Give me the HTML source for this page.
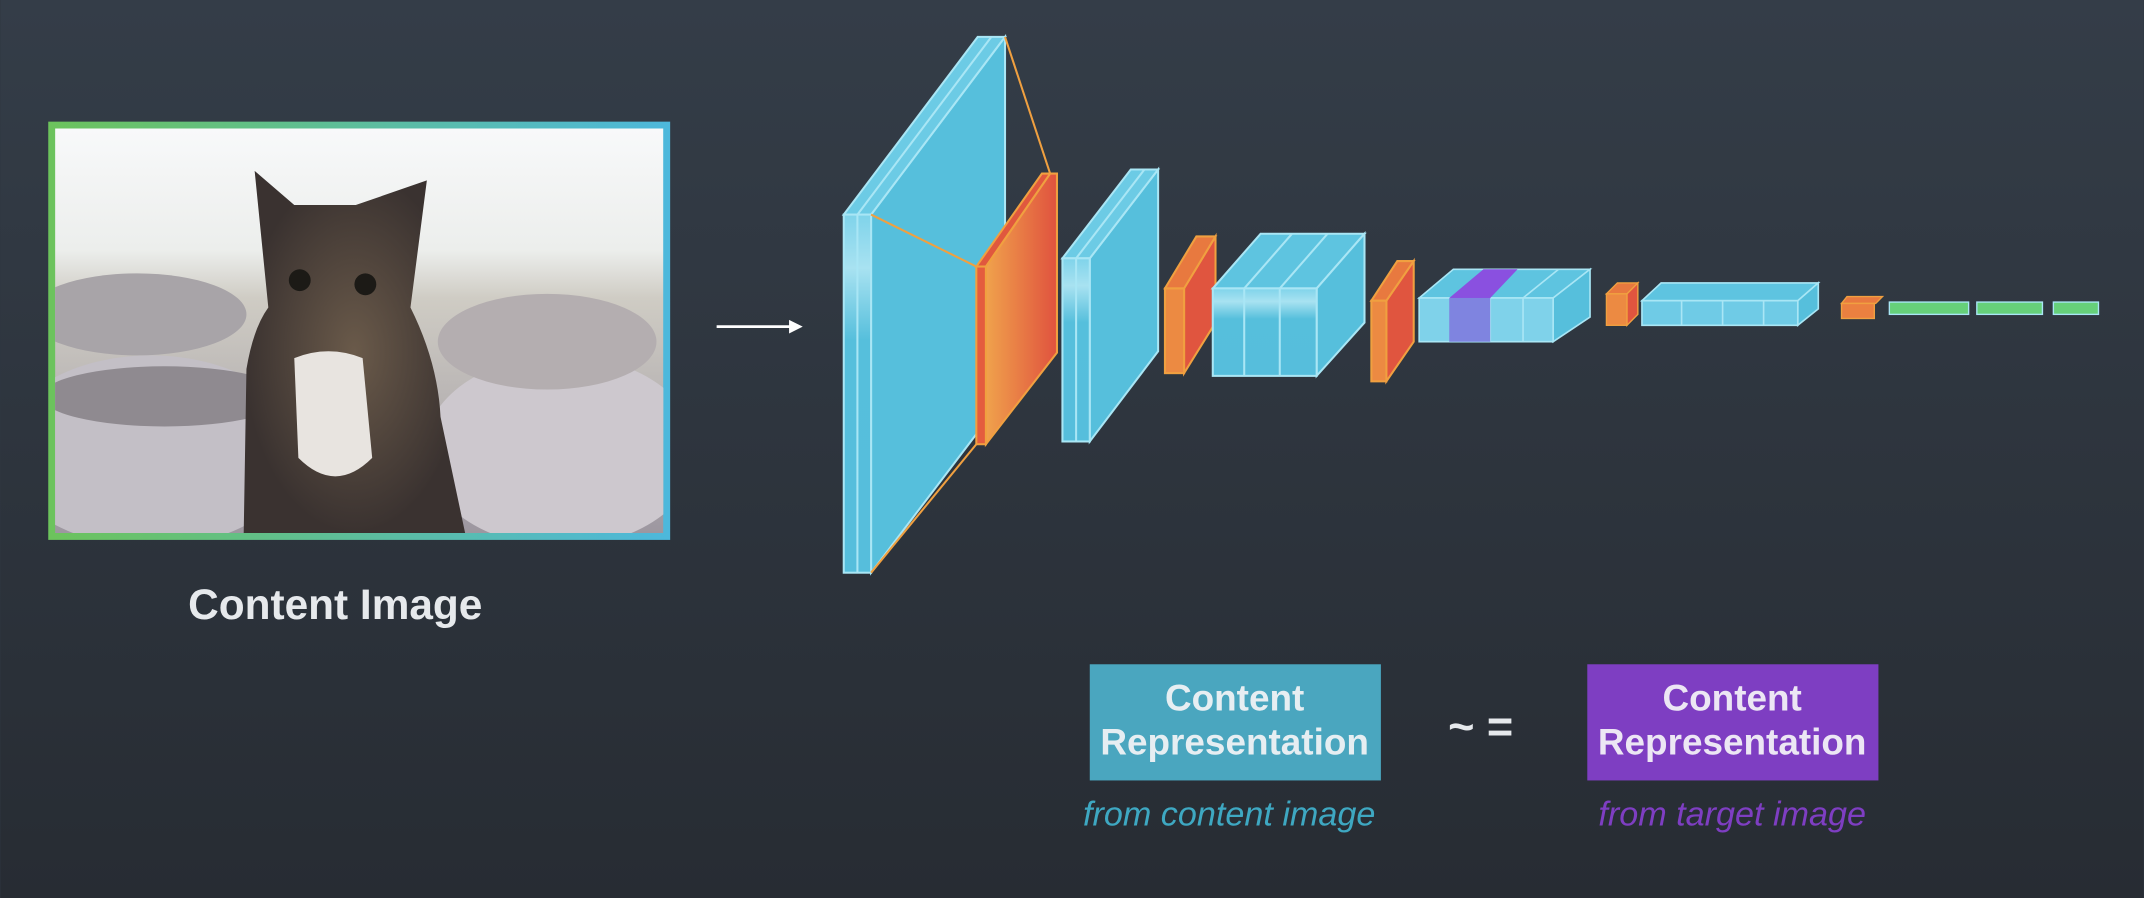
<!DOCTYPE html>
<html><head><meta charset="utf-8"><style>
html,body{margin:0;padding:0;background:#2e3640;}
svg{display:block}
</style></head><body>
<svg width="2144" height="898" viewBox="0 0 1568 657" xmlns="http://www.w3.org/2000/svg" font-family="Liberation Sans, sans-serif">
<defs>
<linearGradient id="bg" x1="0" y1="0" x2="0" y2="1"><stop offset="0" stop-color="#343d48"/><stop offset="1" stop-color="#272c33"/></linearGradient>
<linearGradient id="bd" x1="0" y1="0" x2="1" y2="0"><stop offset="0" stop-color="#6cc35c"/><stop offset="1" stop-color="#4db8dc"/></linearGradient>
<linearGradient id="sky" x1="0" y1="0" x2="0" y2="1"><stop offset="0" stop-color="#f8f9fa"/><stop offset="0.3" stop-color="#eceeec"/><stop offset="0.42" stop-color="#cfccc4"/><stop offset="1" stop-color="#9d97a0"/></linearGradient>
<linearGradient id="org" x1="0" y1="0" x2="1" y2="0"><stop offset="0" stop-color="#f0a24c"/><stop offset="1" stop-color="#e0523e"/></linearGradient>
<linearGradient id="slab" x1="0" y1="0" x2="0" y2="1"><stop offset="0" stop-color="#7fd3ea"/><stop offset="0.15" stop-color="#a8e2f1"/><stop offset="0.35" stop-color="#56bfdc"/><stop offset="1" stop-color="#56bedc"/></linearGradient>
<radialGradient id="cat" cx="0.5" cy="0.5" r="0.5"><stop offset="0" stop-color="#6a5a4a"/><stop offset="1" stop-color="#3a3230"/></radialGradient>
<clipPath id="pc"><rect x="40" y="94" width="445" height="296"/></clipPath>
</defs>
<rect width="1568" height="657" fill="url(#bg)"/>
<rect x="35" y="89" width="455" height="306" fill="url(#bd)"/>
<g clip-path="url(#pc)">
<rect x="40" y="94" width="445" height="296" fill="url(#sky)"/>
<ellipse cx="100" cy="230" rx="80" ry="30" fill="#a8a4a8"/>
<ellipse cx="110" cy="330" rx="110" ry="70" fill="#c3bfc6"/>
<ellipse cx="410" cy="330" rx="100" ry="70" fill="#cdc8ce"/>
<ellipse cx="400" cy="250" rx="80" ry="35" fill="#b4aeb0"/>
<ellipse cx="120" cy="290" rx="90" ry="22" fill="#8f8a90"/>
<path d="M178,390 L180,270 Q185,240 196,225 L186,125 L215,150 L260,150 L312,132 L300,225 Q320,265 322,305 L340,390 Z" fill="url(#cat)"/>
<path d="M215,262 Q240,252 265,262 L272,335 Q245,362 218,335 Z" fill="#e8e4e0"/>
<circle cx="219" cy="205" r="8" fill="#1c1a16"/><circle cx="267" cy="208" r="8" fill="#1c1a16"/>
</g>
<text x="245" y="453" font-size="31" font-weight="bold" fill="#e6e9ec" text-anchor="middle">Content Image</text>
<line x1="524" y1="239" x2="580" y2="239" stroke="#fff" stroke-width="2"/>
<polygon points="587,239 577,234 577,244" fill="#fff"/>
<g stroke="#a9e6f5" stroke-width="1.5">
<polygon points="637,157 735,27 735,290 637,419" fill="#56bfdc"/>
<polygon points="617,157 715,27 735,27 637,157" fill="#6ccbe5"/>
<rect x="617" y="157" width="20" height="262" fill="url(#slab)"/>
<line x1="627" y1="157" x2="627" y2="419"/><line x1="627" y1="157" x2="725" y2="27"/>
</g>
<g stroke="#f0a040" stroke-width="1.5">
<line x1="735" y1="27" x2="768" y2="127"/><line x1="637" y1="157" x2="714" y2="195"/><line x1="637" y1="419" x2="714" y2="325"/>
<polygon points="721,195 768,127 773,127 773,258 721,325" fill="url(#org)"/>
<polygon points="714,195 762,127 768,127 721,195" fill="#e0583e"/>
<rect x="714" y="195" width="7" height="130" fill="#e45c3e"/>
</g>
<g stroke="#a9e6f5" stroke-width="1.5">
<polygon points="797,189 847,124 847,257 797,323" fill="#56bfdc"/>
<polygon points="777,189 827,124 847,124 797,189" fill="#6ccbe5"/>
<rect x="777" y="189" width="20" height="134" fill="url(#slab)"/>
<line x1="787" y1="189" x2="787" y2="323"/><line x1="787" y1="189" x2="837" y2="124"/>
</g>
<g stroke="#f0a040" stroke-width="1.5">
<polygon points="866,211 889,173 889,236 866,273" fill="#e0553f"/>
<polygon points="852,211 875,173 889,173 866,211" fill="#e8793f"/>
<rect x="852" y="211" width="14" height="62" fill="#ec8a42"/>
</g>
<g stroke="#a9e6f5" stroke-width="1.5">
<polygon points="887,211 922,171 998,171 963,211" fill="#5ec4e0"/>
<polygon points="963,211 998,171 998,236 963,275" fill="#56bfdc"/>
<rect x="887" y="211" width="76" height="64" fill="url(#slab)"/>
<line x1="910" y1="211" x2="910" y2="275"/><line x1="936" y1="211" x2="936" y2="275"/><line x1="910" y1="211" x2="945" y2="171"/><line x1="936" y1="211" x2="971" y2="171"/>
</g>
<g stroke="#f0a040" stroke-width="1.5">
<polygon points="1014,220 1034,191 1034,250 1014,279" fill="#e0553f"/>
<polygon points="1003,220 1022,191 1034,191 1014,220" fill="#e8793f"/>
<rect x="1003" y="220" width="11" height="59" fill="#ec8a42"/>
</g>
<g stroke="#a9e6f5" stroke-width="1.2">
<polygon points="1038,218 1063,197 1163,197 1136,218" fill="#5ec4e0"/>
<polygon points="1136,218 1163,197 1163,232 1136,250" fill="#56bfdc"/>
<rect x="1038" y="218" width="98" height="32" fill="#7fd2ea"/>
<line x1="1090" y1="218" x2="1090" y2="250"/><line x1="1114" y1="218" x2="1114" y2="250"/><line x1="1114" y1="218" x2="1140" y2="197"/>
</g>
<polygon points="1060,218 1085,197 1110,197 1090,218" fill="#8a50e0"/>
<rect x="1060" y="218" width="30" height="32" fill="#7f84e0"/>
<g stroke="#f0a040" stroke-width="1">
<polygon points="1190,215 1198,207 1198,230 1190,238" fill="#e0553f"/>
<polygon points="1175,215 1183,207 1198,207 1190,215" fill="#e8793f"/>
<rect x="1175" y="215" width="15" height="23" fill="#ec8a42"/>
</g>
<g stroke="#a9e6f5" stroke-width="1.2">
<polygon points="1201,220 1215,207 1330,207 1315,220" fill="#5ec4e0"/>
<polygon points="1315,220 1330,207 1330,226 1315,238" fill="#56bfdc"/>
<rect x="1201" y="220" width="114" height="18" fill="#6fcbe6"/>
<line x1="1230" y1="220" x2="1230" y2="238"/><line x1="1260" y1="220" x2="1260" y2="238"/><line x1="1290" y1="220" x2="1290" y2="238"/>
</g>
<g stroke="#f0a040" stroke-width="1">
<polygon points="1347,222 1351,217 1377,217 1372,222" fill="#e8793f"/>
<rect x="1347" y="222" width="24" height="11" fill="#eb8040"/>
</g>
<g fill="#66d07a" stroke="#a9e6f5" stroke-width="1">
<rect x="1382" y="221" width="58" height="9"/><rect x="1446" y="221" width="48" height="9"/><rect x="1502" y="221" width="33" height="9"/>
</g>
<rect x="797" y="486" width="213" height="85" fill="#4aa6bf"/>
<text x="903" y="520" font-size="27" font-weight="bold" fill="#e6eef2" text-anchor="middle">Content</text>
<text x="903" y="552" font-size="27" font-weight="bold" fill="#e6eef2" text-anchor="middle">Representation</text>
<text x="1083" y="543" font-size="33" font-weight="bold" fill="#e6e9ec" text-anchor="middle">~ =</text>
<rect x="1161" y="486" width="213" height="85" fill="#7e3ec2"/>
<text x="1267" y="520" font-size="27" font-weight="bold" fill="#ece6f4" text-anchor="middle">Content</text>
<text x="1267" y="552" font-size="27" font-weight="bold" fill="#ece6f4" text-anchor="middle">Representation</text>
<text x="899" y="604" font-size="25" font-style="italic" fill="#3ea8c2" text-anchor="middle">from content image</text>
<text x="1267" y="604" font-size="25" font-style="italic" fill="#7e3ec2" text-anchor="middle">from target image</text>
</svg>
</body></html>
